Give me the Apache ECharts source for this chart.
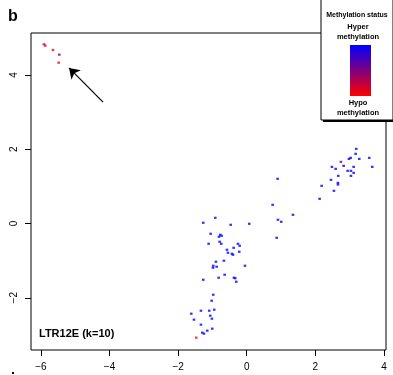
<!DOCTYPE html>
<html>
<head>
<meta charset="utf-8">
<script src="https://cdn.jsdelivr.net/npm/echarts@6/dist/echarts.min.js"></script>
<style>
html,body{margin:0;padding:0;background:#fff;}
#chart{width:393px;height:375px;}
</style>
</head>
<body>
<div id="chart"></div>
<script>
// Data (x, y, methylation level 0 = hypo, 1 = hyper)
var pointX = [
  -5.913, -5.875, -5.650, -5.466, -5.484,
  -0.918, -1.268, -0.469, 0.073, -1.052, -0.773, -0.732, -0.810, -1.111, -0.790,
  -0.743, -0.257, -0.207, -0.382, -0.577, -0.548, -0.431, -0.402, -0.219, -0.898,
  -0.665, -0.052, -0.977, -0.985, -0.878, -0.644, -0.819, -0.373, -0.335, -0.306,
  -1.268, -0.977, -1.023, -1.335, -1.093, -0.948, -1.618, -1.064, -1.539, -1.015,
  -1.335, -1.006, -1.152, -1.297, -1.248, -1.472,
  0.901, 0.755, 1.347, 0.910, 1.006, 0.872,
  3.192, 3.175, 2.980, 3.029, 3.280, 3.571, 2.746, 2.484, 2.592, 2.825,
  3.117, 3.659, 2.942, 3.038, 3.117, 3.038, 2.668, 2.455, 2.659, 2.659,
  2.184, 2.542, 2.125
];
var pointY = [
  4.827, 4.789, 4.673, 4.547, 4.331,
  0.153, 0.019, -0.035, -0.008, -0.277, -0.304, -0.331, -0.358, -0.546, -0.492,
  -0.546, -0.546, -0.600, -0.654, -0.708, -0.788, -0.815, -0.842, -0.761, -1.030,
  -1.003, -1.138, -1.138, -1.192, -1.165, -1.380, -1.461, -1.461, -1.474, -1.568,
  -1.515, -1.918, -2.080, -2.349, -2.349, -2.322, -2.429, -2.483, -2.590, -2.564,
  -2.725, -2.833, -2.886, -2.940, -2.967, -3.075,
  1.203, 0.503, 0.234, 0.100, 0.046, -0.385,
  2.010, 1.875, 1.740, 1.768, 1.740, 1.768, 1.660, 1.525, 1.472, 1.552,
  1.525, 1.525, 1.418, 1.418, 1.364, 1.283, 1.283, 1.176, 1.095, 1.049,
  1.014, 0.880, 0.665
];
var pointMeth = [
  0.12, 0.12, 0.05, 0.55, 0.0,
  1, 1, 1, 1, 1, 1, 1, 1, 1, 1,
  1, 1, 1, 1, 1, 1, 1, 1, 1, 1,
  1, 1, 1, 1, 1, 1, 1, 1, 1, 1,
  1, 1, 1, 1, 1, 1, 1, 1, 1, 1,
  1, 1, 1, 1, 1, 0.0,
  1, 1, 1, 1, 1, 1,
  1, 1, 1, 1, 1, 1, 0.55, 1, 1, 1,
  1, 1, 1, 1, 1, 1, 1, 1, 1, 1,
  1, 1, 1
];
var xTicks = [-6, -4, -2, 0, 2, 4];
var yTicks = [-2, 0, 2, 4];
var panelLabel = 'b';
var plotTitle = 'LTR12E (k=10)';
var legendTitle = 'Methylation status';
var legendHigh = ['Hyper', 'methylation'];
var legendLow = ['Hypo', 'methylation'];
var colorLow = '#ff0000';
var colorHigh = '#0000ff';
var arrowFrom = [-4.19, 3.27];
var arrowTo = [-5.18, 4.19];

var points = pointX.map(function (x, i) { return [x, pointY[i], pointMeth[i]]; });
var FONT = '"Liberation Sans", Arial, Helvetica, sans-serif';
function minus(v) { return String(v).replace('-', '\u2212'); }

var chart = echarts.init(document.getElementById('chart'), null, {renderer: 'canvas'});
chart.setOption({
  animation: false,
  backgroundColor: '#ffffff',
  grid: {
    left: 31, right: 7, top: 33, bottom: 25,
    show: true, borderColor: '#000', borderWidth: 1, backgroundColor: 'transparent'
  },
  xAxis: {
    type: 'value', min: -6.29, max: 4.06,
    axisLine: {show: false, onZero: false},
    splitLine: {show: false},
    axisTick: {show: true, inside: false, length: 6, customValues: xTicks,
      lineStyle: {color: '#000', width: 1}},
    axisLabel: {show: true, customValues: xTicks, margin: 12, fontSize: 10,
      fontFamily: FONT, color: '#000', formatter: minus}
  },
  yAxis: {
    type: 'value', min: -3.407, max: 5.13,
    axisLine: {show: false, onZero: false},
    splitLine: {show: false},
    axisTick: {show: true, inside: false, length: 6, customValues: yTicks,
      lineStyle: {color: '#000', width: 1}},
    axisLabel: {show: true, customValues: yTicks, margin: 12, fontSize: 10, rotate: 90,
      fontFamily: FONT, color: '#000', formatter: minus}
  },
  visualMap: {
    type: 'continuous', show: false, dimension: 2, min: 0, max: 1,
    seriesIndex: 0,
    inRange: {color: [colorLow, colorHigh]}
  },
  series: [{
    type: 'scatter',
    data: points,
    symbol: 'rect',
    symbolSize: [2.6, 2.2],
    silent: true,
    z: 5
  }, {
    type: 'line',
    data: [],
    silent: true,
    markLine: {
      silent: true,
      symbol: ['none', 'arrow'],
      symbolSize: 10,
      label: {show: false},
      lineStyle: {color: '#000', width: 1.2, type: 'solid'},
      itemStyle: {color: '#000'},
      data: [[{coord: arrowFrom}, {coord: arrowTo}]]
    }
  }],
  graphic: [
    {type: 'text', left: 8, top: 9, z: 60,
      style: {text: panelLabel, font: 'bold 16px ' + FONT, fill: '#000'}},
    {type: 'text', left: 39, top: 328, z: 60,
      style: {text: plotTitle, font: 'bold 11px ' + FONT, fill: '#000'}},
    {type: 'rect', z: 50, shape: {x: 0, y: 0, width: 2, height: 2}, left: 12, top: 372,
      style: {fill: '#000'}},
    // legend box with shadow
    {type: 'rect', z: 50, shape: {x: 323, y: 1, width: 72, height: 121},
      style: {fill: '#000'}},
    {type: 'rect', z: 51, shape: {x: 321, y: -2, width: 72, height: 122},
      style: {fill: '#fff', stroke: '#000', lineWidth: 1}},
    {type: 'rect', z: 55, shape: {x: 350, y: 45, width: 21, height: 51},
      style: {fill: new echarts.graphic.LinearGradient(0, 0, 0, 1, [
        {offset: 0, color: colorHigh}, {offset: 1, color: colorLow}])}},
    {type: 'text', z: 60, x: 357, y: 15,
      style: {text: legendTitle, font: 'bold 7px ' + FONT, fill: '#000', align: 'center', verticalAlign: 'middle'}},
    {type: 'text', z: 60, x: 358, y: 32,
      style: {text: legendHigh.join('\n'), font: 'bold 7.5px ' + FONT, lineHeight: 10, fill: '#000', align: 'center', verticalAlign: 'middle'}},
    {type: 'text', z: 60, x: 358, y: 108,
      style: {text: legendLow.join('\n'), font: 'bold 7.5px ' + FONT, lineHeight: 10, fill: '#000', align: 'center', verticalAlign: 'middle'}}
  ]
});
</script>
</body>
</html>
